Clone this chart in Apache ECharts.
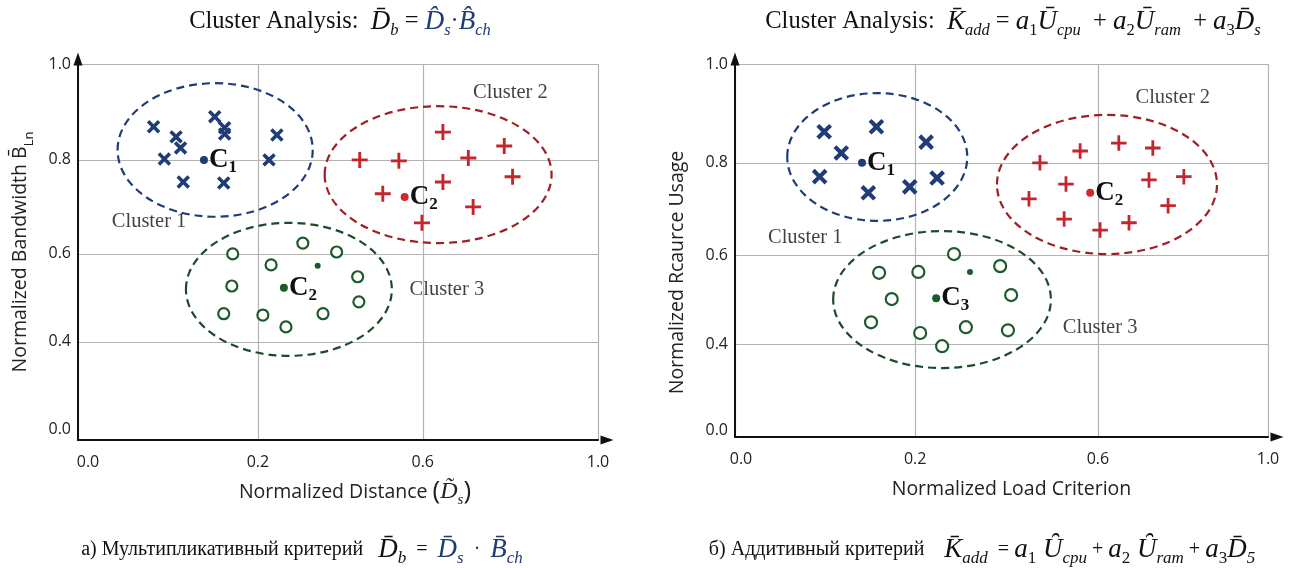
<!DOCTYPE html>
<html><head><meta charset="utf-8">
<script src="https://cdn.jsdelivr.net/npm/echarts@6/dist/echarts.min.js"></script>
<style>html,body{margin:0;padding:0;background:#fff}#c{width:1298px;height:568px}</style>
</head><body><div id="c"></div>
<script>
// ---------- tick labels ----------
const xTickLabels = ['0.0', '0.2', '0.6', '1.0'];
const yTickLabels = ['0.0', '0.4', '0.6', '0.8', '1.0'];
const clusterNames = ['Cluster 1', 'Cluster 2', 'Cluster 3'];

// ---------- (a) multiplicative criterion: [x, y] in axis-label units ----------
const multCluster1 = [[0.084,0.869],[0.109,0.848],[0.152,0.890],[0.163,0.867],[0.163,0.854],[0.114,0.825],[0.096,0.802],[0.246,0.852],[0.227,0.800],[0.117,0.753],[0.162,0.751]];
const multCluster2 = [[0.447,0.800],[0.542,0.798],[0.646,0.858],[0.704,0.804],[0.786,0.829],[0.805,0.764],[0.646,0.753],[0.503,0.728],[0.715,0.700],[0.598,0.666]];
const multCluster3 = [[0.172,0.600],[0.232,0.575],[0.309,0.623],[0.391,0.604],[0.171,0.527],[0.442,0.548],[0.445,0.491],[0.162,0.464],[0.212,0.461],[0.358,0.464],[0.268,0.434]];
const multExtraDots = [[0.345,0.573]];
const multCentroids = [[0.140,0.800],[0.556,0.721],[0.263,0.523]];
const multCentroidNames = ['1', '2', '2'];
const multEllipses = [[0.044,0.333,0.679,0.960],[0.362,0.894,0.623,0.912],[0.120,0.525,0.343,0.666]]; // [xMin,xMax,yMin,yMax]
const multClusterLabelAt = [[0.079,0.668],[0.800,0.940],[0.655,0.518]];

// ---------- (b) additive criterion ----------
const addCluster1 = [[0.099,0.863],[0.157,0.873],[0.118,0.820],[0.224,0.842],[0.094,0.770],[0.148,0.735],[0.194,0.748],[0.248,0.767]];
const addCluster2 = [[0.473,0.800],[0.561,0.824],[0.649,0.840],[0.729,0.830],[0.530,0.754],[0.449,0.722],[0.720,0.763],[0.802,0.770],[0.765,0.707],[0.526,0.678],[0.605,0.654],[0.673,0.670]];
const addCluster3 = [[0.285,0.602],[0.160,0.560],[0.207,0.562],[0.386,0.575],[0.174,0.501],[0.410,0.510],[0.151,0.449],[0.211,0.425],[0.311,0.438],[0.403,0.431],[0.259,0.391]];
const addExtraDots = [[0.320,0.562]];
const addCentroids = [[0.141,0.800],[0.583,0.735],[0.246,0.503]];
const addCentroidNames = ['1', '2', '3'];
const addEllipses = [[0.058,0.314,0.674,0.941],[0.379,0.880,0.602,0.897],[0.109,0.497,0.297,0.652]];
const addClusterLabelAt = [[0.078,0.637],[0.776,0.933],[0.605,0.438]];

// ---------- layout (positions of the unevenly spaced ticks along each axis, 0..1) ----------
const LAYOUT = [
  { grid: {left: 78, top: 64, right: 700, bottom: 128}, xPos: [0, 0.346, 0.663, 1], yPos: [0, 0.261, 0.495, 0.745, 1],
    zeroX: 20, zeroY: 22, markSize: {cross: 15.5, plus: 16, circle: 11}, xNamePad: 34, yNamePad: 0 },
  { grid: {left: 735, top: 64, right: 30, bottom: 131}, xPos: [0, 0.338, 0.681, 1], yPos: [0, 0.249, 0.488, 0.735, 1],
    zeroX: 12, zeroY: 14, markSize: {cross: 18, plus: 15.5, circle: 12}, xNamePad: 20, yNamePad: 44 }
];

const SERIF = "'Liberation Serif','DejaVu Serif',serif";
const SANS = "'Open Sans','Noto Sans',sans-serif";
const BLUE = '#1f3b78', RED = '#c4262e', GREEN = '#1d5a2c';
const ELL = ['#1f3b78', '#9e1f26', '#1e4a2a'];
const CEN = ['#1f3b78', '#d0282e', '#1d5a2c'];
const PLUS = 'path://M4.1,0H5.9V4.1H10V5.9H5.9V10H4.1V5.9H0V4.1H4.1Z';
const CROSS = 'path://M3.85,0H6.15V3.85H10V6.15H6.15V10H3.85V6.15H0V3.85H3.85Z';

const xTicks = xTickLabels.map(Number);
const yTicks = yTickLabels.map(Number);
function warp(v, ticks, pos) {
  for (let i = 0; i < ticks.length - 1; i++) {
    if (v <= ticks[i + 1] || i === ticks.length - 2)
      return pos[i] + (v - ticks[i]) / (ticks[i + 1] - ticks[i]) * (pos[i + 1] - pos[i]);
  }
}
const wp = (p, L) => [warp(p[0], xTicks, L.xPos), warp(p[1], yTicks, L.yPos)];
function fmt(pos, labels) {
  return v => {
    const i = pos.findIndex(p => Math.abs(p - v) < 1e-6);
    if (i < 0) return '';
    return i === 0 ? '{z|' + labels[0] + '}' : labels[i];
  };
}

const tickStyle = {color: '#222', fontFamily: SANS, fontSize: 16};
const nameRich = {
  n: {fontFamily: SANS, fontSize: 19.5, color: '#222', lineHeight: 32},
  b: {fontFamily: SANS, fontSize: 19.5, color: '#222', lineHeight: 32},
  d: {fontFamily: SERIF, fontSize: 24, fontStyle: 'italic', color: '#222', lineHeight: 32},
  p: {fontFamily: SANS, fontSize: 26, color: '#222', lineHeight: 32},
  s: {fontFamily: SERIF, fontSize: 15, fontStyle: 'italic', color: '#222', lineHeight: 15, verticalAlign: 'bottom'},
  ss: {fontFamily: SANS, fontSize: 13, color: '#222', lineHeight: 15, verticalAlign: 'bottom'}
};

const xNames = ['{n|Normalized Distance }{p|(}{d|D\u0303}{s|s}{p|)}', '{n|Normalized Load Criterion}'];
const yNames = ['{n|Normalized Bandwidth }{b|B\u0304}{ss|Ln}', '{n|Normalized Rcaurce Usage}'];

const grids = [], xAxes = [], yAxes = [], series = [];
LAYOUT.forEach((L, k) => {
  grids.push(L.grid);
  xAxes.push({
    type: 'value', gridIndex: k, min: 0, max: 1,
    axisLine: {show: true, onZero: false, lineStyle: {color: '#111', width: 2}, symbol: ['none', 'triangle'], symbolSize: [9, 13], symbolOffset: [0, 9]},
    axisTick: {show: false, customValues: L.xPos},
    axisLabel: Object.assign({customValues: L.xPos, formatter: fmt(L.xPos, xTickLabels), margin: 14,
      rich: {z: {padding: [0, 0, 0, L.zeroX]}}}, tickStyle),
    splitLine: {show: true, lineStyle: {color: '#b3b3b3', width: 1.2}},
    name: xNames[k], nameLocation: 'middle', nameGap: 36,
    nameTextStyle: {rich: nameRich, padding: [0, 0, 0, L.xNamePad]}
  });
  yAxes.push({
    type: 'value', gridIndex: k, min: 0, max: 1,
    axisLine: {show: true, onZero: false, lineStyle: {color: '#111', width: 2}, symbol: ['none', 'triangle'], symbolSize: [9, 13], symbolOffset: [0, 5]},
    axisTick: {show: false, customValues: L.yPos},
    axisLabel: Object.assign({customValues: L.yPos, formatter: fmt(L.yPos, yTickLabels), margin: 7,
      rich: {z: {padding: [0, 0, L.zeroY, 0]}}}, tickStyle),
    splitLine: {show: true, lineStyle: {color: '#b3b3b3', width: 1.2}},
    name: yNames[k], nameLocation: 'middle', nameRotate: 90, nameGap: 42,
    nameTextStyle: {rich: nameRich, padding: [0, L.yNamePad, 0, 0]}
  });
});

const charts = [
  {c1: multCluster1, c2: multCluster2, c3: multCluster3, extra: multExtraDots, cen: multCentroids, cenNames: multCentroidNames, ell: multEllipses, lab: multClusterLabelAt},
  {c1: addCluster1, c2: addCluster2, c3: addCluster3, extra: addExtraDots, cen: addCentroids, cenNames: addCentroidNames, ell: addEllipses, lab: addClusterLabelAt}
];

charts.forEach((D, k) => {
  const L = LAYOUT[k];
  const ax = {xAxisIndex: k, yAxisIndex: k};
  series.push(Object.assign({
    type: 'custom', silent: true, z: 1,
    data: D.ell.map(e => [warp(e[0], xTicks, L.xPos), warp(e[1], xTicks, L.xPos), warp(e[2], yTicks, L.yPos), warp(e[3], yTicks, L.yPos)]),
    encode: {x: [0, 1], y: [2, 3]},
    renderItem: (params, api) => {
      const p1 = api.coord([api.value(0), api.value(2)]);
      const p2 = api.coord([api.value(1), api.value(3)]);
      return {type: 'ellipse',
        shape: {cx: (p1[0] + p2[0]) / 2, cy: (p1[1] + p2[1]) / 2, rx: Math.abs(p2[0] - p1[0]) / 2, ry: Math.abs(p2[1] - p1[1]) / 2},
        style: {fill: 'none', stroke: ELL[params.dataIndex], lineWidth: 2.2, lineDash: [8, 5]}};
    }
  }, ax));
  series.push(Object.assign({type: 'scatter', silent: true, z: 3, symbol: CROSS, symbolRotate: 45, symbolSize: L.markSize.cross,
    itemStyle: {color: BLUE, opacity: 1}, data: D.c1.map(p => wp(p, L))}, ax));
  series.push(Object.assign({type: 'scatter', silent: true, z: 3, symbol: PLUS, symbolSize: L.markSize.plus,
    itemStyle: {color: RED, opacity: 1}, data: D.c2.map(p => wp(p, L))}, ax));
  series.push(Object.assign({type: 'scatter', silent: true, z: 3, symbol: 'circle', symbolSize: L.markSize.circle,
    itemStyle: {color: '#fff', borderColor: GREEN, borderWidth: 2.2, opacity: 1}, data: D.c3.map(p => wp(p, L))}, ax));
  series.push(Object.assign({type: 'scatter', silent: true, z: 3, symbol: 'circle', symbolSize: 6,
    itemStyle: {color: GREEN, opacity: 1}, data: D.extra.map(p => wp(p, L))}, ax));
  series.push(Object.assign({type: 'scatter', silent: true, z: 4, symbol: 'circle', symbolSize: 8,
    data: D.cen.map((p, i) => ({value: wp(p, L), name: D.cenNames[i], itemStyle: {color: CEN[i], opacity: 1}})),
    label: {show: true, position: 'right', distance: 1, formatter: p => '{c|C}{n|' + p.name + '}',
      rich: {c: {fontFamily: SERIF, fontSize: 27, fontWeight: 'bold', color: '#111', lineHeight: 32},
             n: {fontFamily: SERIF, fontSize: 17, fontWeight: 'bold', color: '#111', lineHeight: 16, verticalAlign: 'bottom'}}}
  }, ax));
  series.push(Object.assign({type: 'scatter', silent: true, z: 4, symbol: 'circle', symbolSize: 1,
    itemStyle: {color: 'rgba(0,0,0,0)'},
    data: D.lab.map((p, i) => ({value: wp(p, L), name: clusterNames[i]})),
    label: {show: true, position: 'inside', formatter: p => p.name, fontFamily: SERIF, fontSize: 20.5, color: '#111'}
  }, ax));
});

// ---------- titles and captions ----------
function makeRich(tSize, iSize, sSize) {
  const R = (sz, extra) => Object.assign({fontFamily: SERIF, fontSize: sz, fill: '#111', color: '#111', lineHeight: 34}, extra || {});
  const SUB = {lineHeight: sSize, verticalAlign: 'bottom'};
  return {
    t: R(tSize), tb: R(tSize, {fill: BLUE, color: BLUE}),
    i: R(iSize, {fontStyle: 'italic'}), ib: R(iSize, {fontStyle: 'italic', fill: BLUE, color: BLUE}),
    s: R(sSize, SUB), si: R(sSize, Object.assign({fontStyle: 'italic'}, SUB)),
    sb: R(sSize, Object.assign({fontStyle: 'italic', fill: BLUE, color: BLUE}, SUB))
  };
}
const titleRich = makeRich(24.5, 27, 16.5);
const capRich = makeRich(20, 27, 17);
const texts = [
  {x: 340, y: 22, r: titleRich, t: '{t|Cluster Analysis:  }{i|D\u0304}{si|b}{t| = }{ib|D\u0302}{sb|s}{tb|\u00b7}{ib|B\u0302}{sb|ch}'},
  {x: 1013, y: 22, r: titleRich, t: '{t|Cluster Analysis:  }{i|K\u0304}{si|add}{t| = }{i|a}{s|1}{i|U\u0304}{si|cpu}{t|  + }{i|a}{s|2}{i|U\u0304}{si|ram}{t|  + }{i|a}{s|3}{i|D\u0304}{si|s}'},
  {x: 302, y: 550, r: capRich, t: '{t|\u0430) \u041c\u0443\u043b\u044c\u0442\u0438\u043f\u043b\u0438\u043a\u0430\u0442\u0438\u0432\u043d\u044b\u0439 \u043a\u0440\u0438\u0442\u0435\u0440\u0438\u0439   }{i|D\u0304}{si|b}{t|  =  }{ib|D\u0304}{sb|s}{tb|  \u00b7  }{ib|B\u0304}{sb|ch}'},
  {x: 982, y: 550, r: capRich, t: '{t|\u0431) \u0410\u0434\u0434\u0438\u0442\u0438\u0432\u043d\u044b\u0439 \u043a\u0440\u0438\u0442\u0435\u0440\u0438\u0439    }{i|K\u0304}{si|add}{t|  = }{i|a}{s|1}{i| U\u0311}{si|cpu}{t| + }{i|a}{s|2}{i| U\u0311}{si|ram}{t| + }{i|a}{s|3}{i|D\u0304}{si|5}'}
];

const chart = echarts.init(document.getElementById('c'), null, {renderer: 'canvas'});
chart.setOption({
  backgroundColor: '#fff',
  animation: false,
  grid: grids, xAxis: xAxes, yAxis: yAxes, series: series,
  graphic: texts.map(o => ({type: 'text', x: o.x, y: o.y, silent: true,
    style: {text: o.t, rich: o.r, align: 'center', verticalAlign: 'middle', font: '21px ' + SERIF, fill: '#111'}}))
});
</script></body></html>
